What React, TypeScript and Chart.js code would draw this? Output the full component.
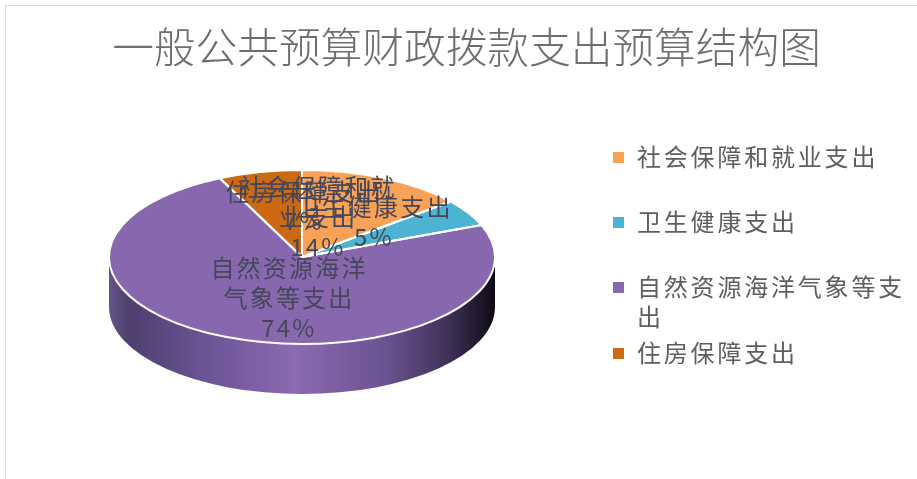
import React, { useEffect, useRef } from "react";
import { Chart, registerables } from "chart.js";

Chart.register(...registerables);

const titleText = "一般公共预算财政拨款支出预算结构图";
const categories = ["社会保障和就业支出", "卫生健康支出", "自然资源海洋气象等支出", "住房保障支出"];
const seriesValues = [14, 5, 74, 7];
const sliceColors = ["#F9A257", "#4DB3D2", "#8767AD", "#CB6A12"];
const labelLines = [["社会保障和就", "业支出", "14%"], ["卫生健康支出", "5%"], ["自然资源海洋", "气象等支出", "74%"], ["住房保障支出", "7%"]];
const legendLines = [["社会保障和就业支出"], ["卫生健康支出"], ["自然资源海洋气象等支", "出"], ["住房保障支出"]];

// layout
const FONT = '"Noto Sans CJK SC", "Noto Sans", sans-serif';
const PIE = { x: 302, y: 257, rx: 193, ry: 87, depth: 50 };
const LABEL_POS = [
  { x: 318, y: 187, lh: 30 },
  { x: 374, y: 207, lh: 30 },
  { x: 289, y: 268, lh: 30 },
  { x: 304, y: 192, lh: 29 },
];
const LEGEND_ROWS = [157, 222, 287, 353];

function pieTransform(chart: any, extraY = 0) {
  const arc = chart.getDatasetMeta(0).data[0];
  const R = arc.outerRadius;
  const sx = PIE.rx / R;
  const sy = PIE.ry / R;
  return { a: sx, b: 0, c: 0, d: sy, e: PIE.x - arc.x * sx, f: PIE.y + extraY - arc.y * sy };
}

const pie3d = {
  id: "pie3d",
  beforeDatasetsDraw(chart: any) {
    const ctx: CanvasRenderingContext2D = chart.ctx;
    const t = pieTransform(chart);
    const td = pieTransform(chart, PIE.depth);
    const arcs = chart.getDatasetMeta(0).data;
    ctx.save();
    const g = ctx.createLinearGradient(PIE.x - PIE.rx, 0, PIE.x + PIE.rx, 0);
    g.addColorStop(0, "#675389");
    g.addColorStop(0.05, "#4E3F6E");
    g.addColorStop(0.25, "#6B5494");
    g.addColorStop(0.48, "#8A6AB0");
    g.addColorStop(0.72, "#6A5290");
    g.addColorStop(0.88, "#3E3156");
    g.addColorStop(1, "#0E0B16");
    for (const el of arcs) {
      for (const shift of [0, Math.PI * 2]) {
        const a = Math.max(el.startAngle + shift - Math.PI * 2, 0);
        const b = Math.min(el.endAngle + shift - Math.PI * 2, Math.PI);
        if (b <= a) continue;
        ctx.beginPath();
        ctx.setTransform(t.a, t.b, t.c, t.d, t.e, t.f);
        ctx.arc(el.x, el.y, el.outerRadius, a, b);
        ctx.setTransform(td.a, td.b, td.c, td.d, td.e, td.f);
        ctx.arc(el.x, el.y, el.outerRadius, b, a, true);
        ctx.closePath();
        ctx.setTransform(1, 0, 0, 1, 0, 0);
        ctx.fillStyle = g;
        ctx.fill();
      }
    }
    ctx.restore();
    ctx.save();
    ctx.setTransform(t.a, t.b, t.c, t.d, t.e, t.f);
  },
  afterDatasetsDraw(chart: any) {
    const ctx: CanvasRenderingContext2D = chart.ctx;
    const t = pieTransform(chart);
    ctx.restore();
    ctx.save();
    ctx.strokeStyle = "#FFFFFF";
    ctx.lineWidth = 2;
    ctx.lineJoin = "round";
    for (const el of chart.getDatasetMeta(0).data) {
      ctx.beginPath();
      ctx.setTransform(t.a, t.b, t.c, t.d, t.e, t.f);
      ctx.moveTo(el.x, el.y);
      ctx.arc(el.x, el.y, el.outerRadius, el.startAngle, el.endAngle);
      ctx.closePath();
      ctx.setTransform(1, 0, 0, 1, 0, 0);
      ctx.stroke();
    }
    ctx.restore();
  },
  afterDraw(chart: any) {
    const ctx: CanvasRenderingContext2D = chart.ctx;
    ctx.save();
    ctx.textBaseline = "middle";
    // data labels
    ctx.font = `24px ${FONT}`;
    ctx.textAlign = "center";
    ctx.fillStyle = "#45475A";
    (ctx as any).letterSpacing = "2.2px";
    labelLines.forEach((lines, i) => {
      lines.forEach((line, j) => {
        ctx.fillText(line, LABEL_POS[i].x, LABEL_POS[i].y + j * LABEL_POS[i].lh);
      });
    });
    // legend
    (ctx as any).letterSpacing = "2.8px";
    ctx.textAlign = "left";
    categories.forEach((_, i) => {
      const y = LEGEND_ROWS[i];
      ctx.fillStyle = sliceColors[i];
      ctx.fillRect(613, y - 5, 11, 11);
      ctx.fillStyle = "#5E5E5E";
      legendLines[i].forEach((line, j) => ctx.fillText(line, 637, y + j * 30));
    });
    ctx.restore();
  },
};

export default function App() {
  const ref = useRef<HTMLCanvasElement>(null);
  useEffect(() => {
    const chart = new Chart(ref.current!, {
      type: "pie",
      data: {
        labels: categories,
        datasets: [{ data: seriesValues, backgroundColor: sliceColors, borderWidth: 0, clip: false } as any],
      },
      options: {
        animation: false,
        responsive: false,
        layout: { padding: { left: 16 } },
        plugins: {
          legend: { display: false },
          tooltip: { enabled: false },
          title: {
            display: true,
            text: titleText,
            color: "#6E6E6E",
            font: { family: FONT, size: 41.7, weight: "300" as any },
            padding: { top: 22, bottom: 10 },
          },
        },
      },
      plugins: [pie3d],
    });
    return () => chart.destroy();
  }, []);
  return (
    <div style={{ position: "absolute", left: 0, top: 0, width: 917, height: 479, background: "#fff", overflow: "hidden" }}>
      <canvas ref={ref} width={917} height={479} style={{ display: "block", filter: "blur(0.5px)" }} />
      <div style={{ position: "absolute", left: 5, top: 5, width: 920, height: 480, borderLeft: "1px solid #DEDEDE", borderTop: "1px solid #DEDEDE", pointerEvents: "none" }} />
    </div>
  );
}
